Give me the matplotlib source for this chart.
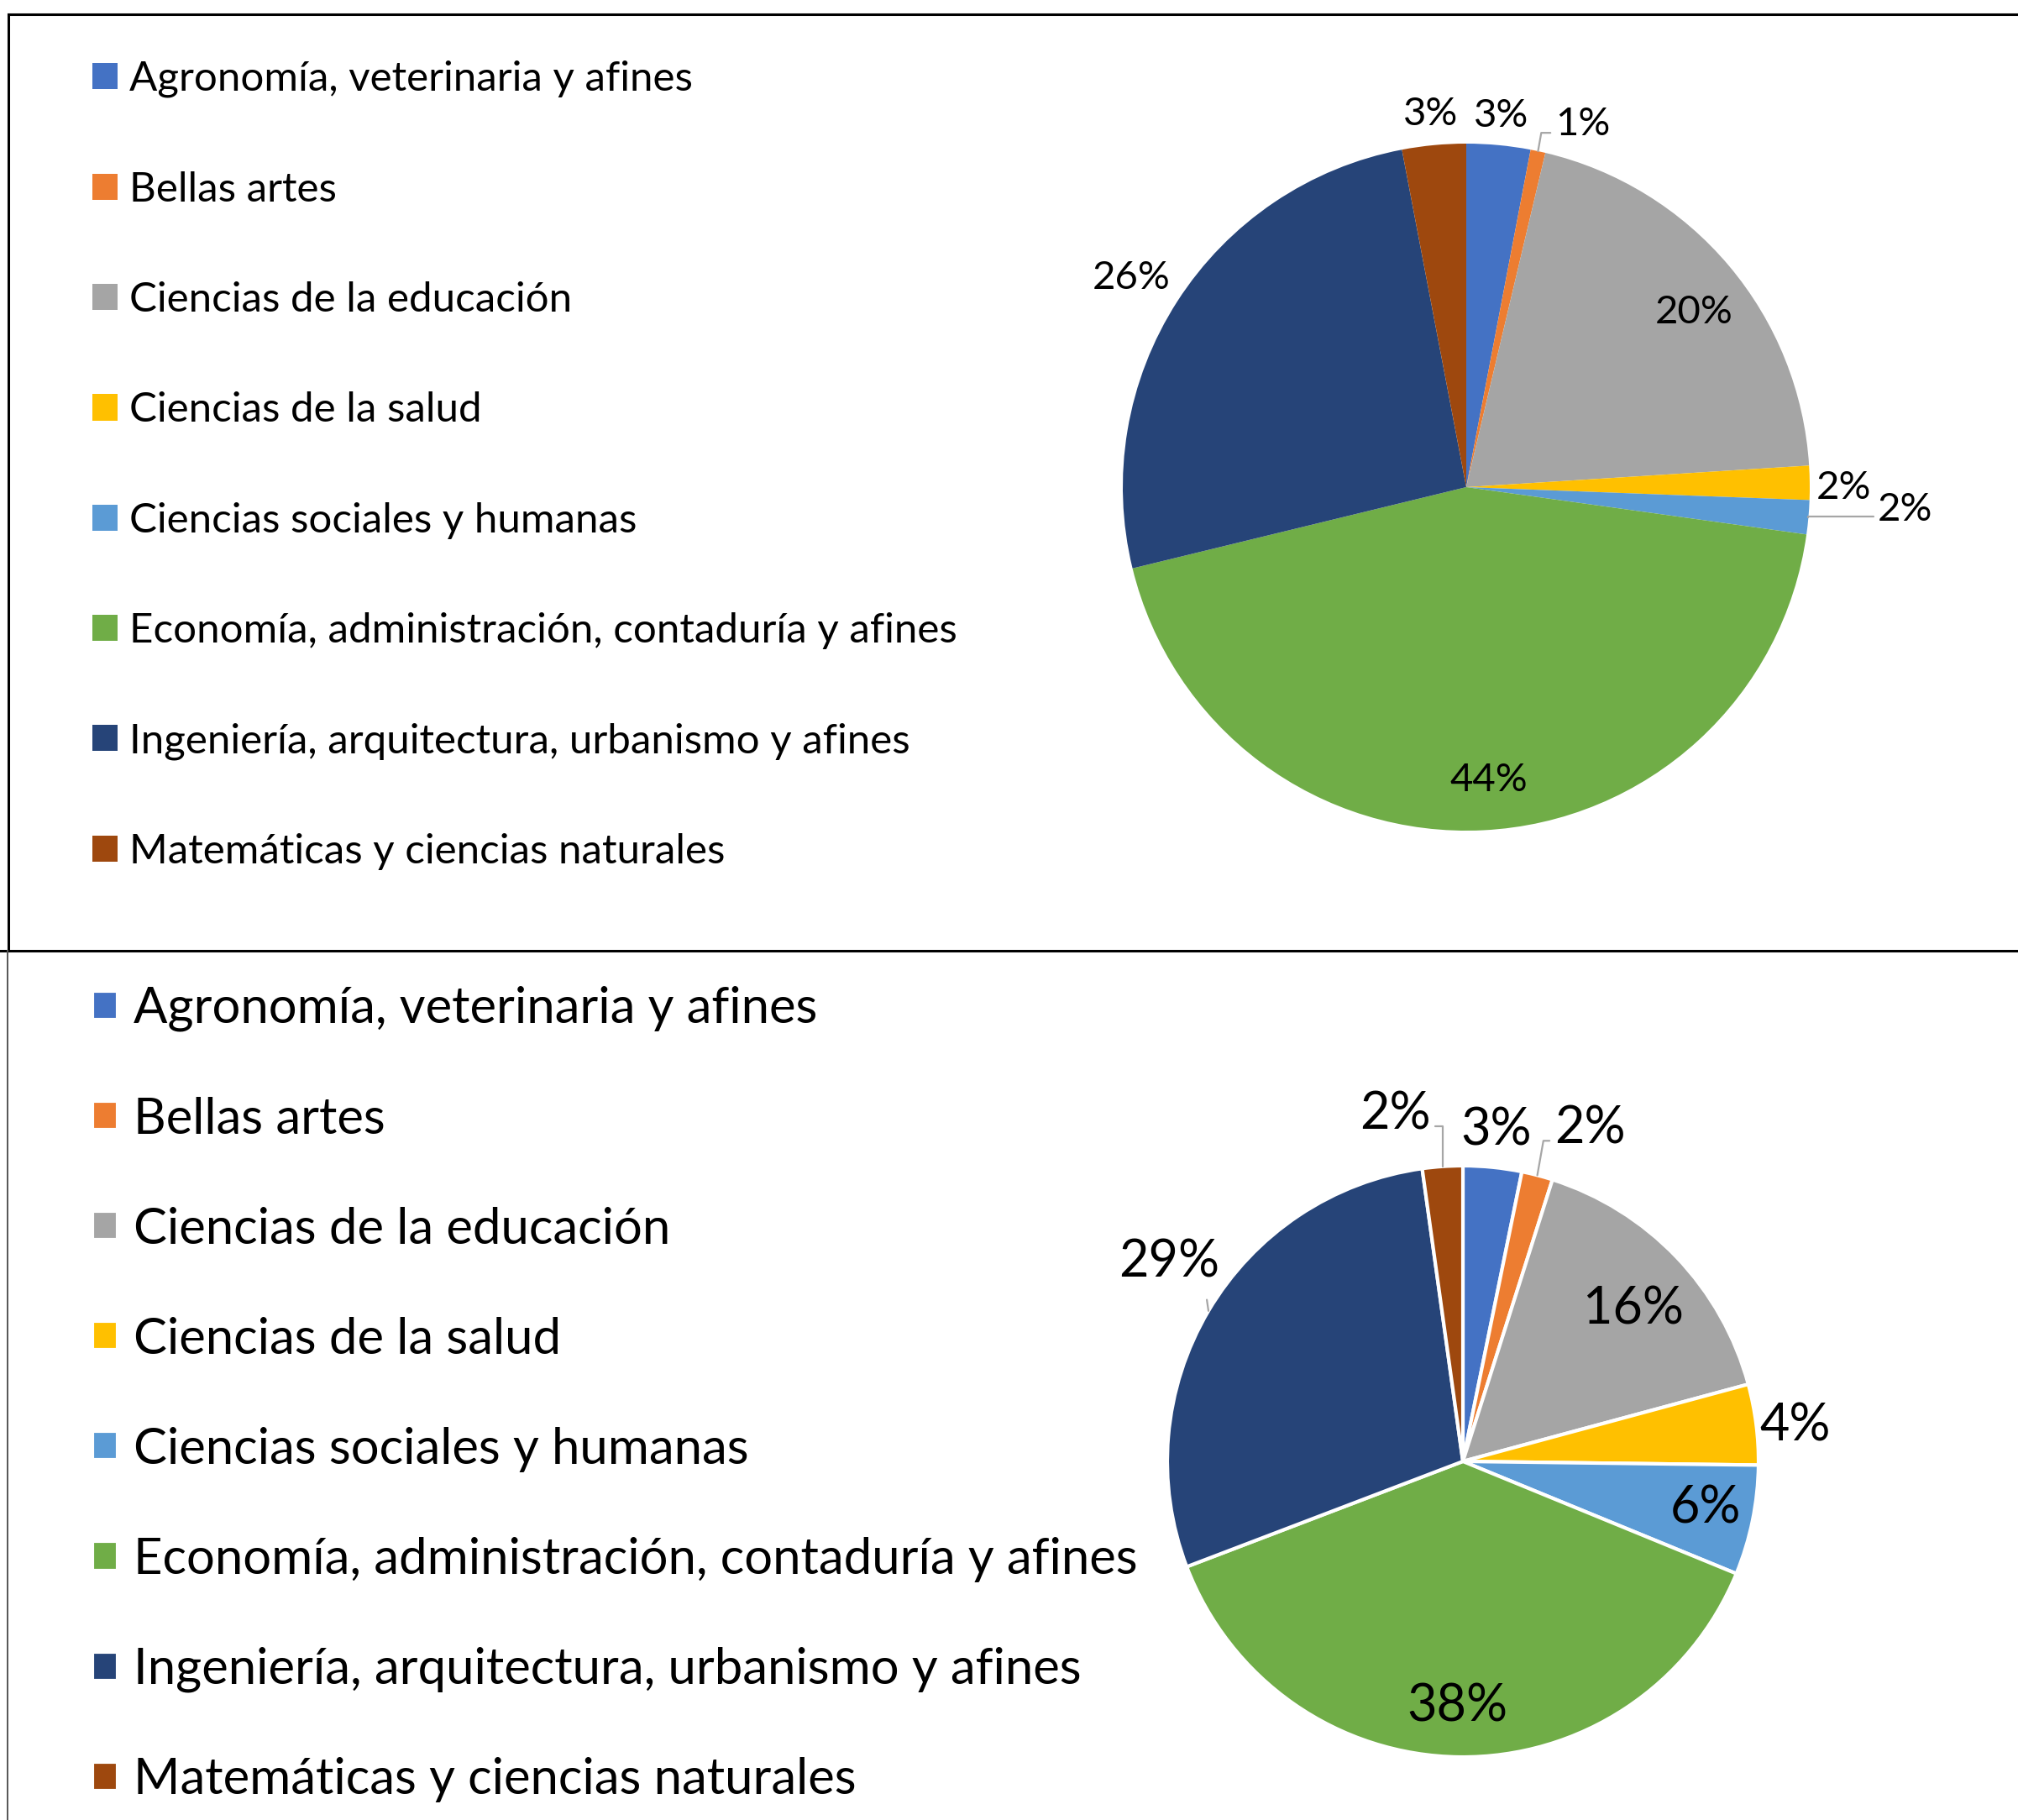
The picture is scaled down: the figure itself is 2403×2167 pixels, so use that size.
import numpy as np
import matplotlib
matplotlib.use("Agg")
import matplotlib.pyplot as plt
from matplotlib.lines import Line2D

plt.rcParams['font.family'] = ['Lato', 'DejaVu Sans']

categories = [
    "Agronomía, veterinaria y afines",
    "Bellas artes",
    "Ciencias de la educación",
    "Ciencias de la salud",
    "Ciencias sociales y humanas",
    "Economía, administración, contaduría y afines",
    "Ingeniería, arquitectura, urbanismo y afines",
    "Matemáticas y ciencias naturales",
]
share_top = [3.0, 0.7, 20.3, 1.6, 1.6, 44.0, 25.8, 3.0]
share_bottom = [3.2, 1.7, 15.9, 4.4, 6.0, 38.0, 28.6, 2.2]

colors = ["#4472C4", "#ED7D31", "#A5A5A5", "#FFC000",
          "#5B9BD5", "#70AD47", "#264478", "#9E480E"]

W, H = 2403, 2167
fig = plt.figure(figsize=(W / 100, H / 100), dpi=100)


def fx(x):
    return x / W


def fy(y):
    return 1 - y / H


# panel frames
lk = dict(transform=fig.transFigure, lw=2.2)
fig.add_artist(Line2D([fx(10), fx(10)], [fy(17), fy(1132)], color="black", **lk))
fig.add_artist(Line2D([fx(10), fx(W)], [fy(17), fy(17)], color="black", **lk))
fig.add_artist(Line2D([fx(0), fx(W)], [fy(1132), fy(1132)], color="black", **lk))
fig.add_artist(Line2D([fx(9), fx(9)], [fy(1132), fy(H)], color="#555555",
                      transform=fig.transFigure, lw=1.4))


def draw_pie(values, cx, cy, r, edge, fs, dist, nudge, leaders,
             leg_xy, leg_fs, leg_space, hsize, hpad):
    ax = fig.add_axes([fx(cx - r), fy(cy + r), 2 * r / W, 2 * r / H])
    wedges, _ = ax.pie(values, colors=colors, startangle=90, counterclock=False,
                       wedgeprops=edge)
    ax.set_xlim(-1, 1)
    ax.set_ylim(-1, 1)
    total = sum(values)
    for i, w in enumerate(wedges):
        mid = np.deg2rad((w.theta1 + w.theta2) / 2)
        ang = mid + np.deg2rad(nudge[i])
        pos = (dist[i] * np.cos(ang), dist[i] * np.sin(ang))
        txt = f"{values[i] / total * 100:.0f}%"
        if i in leaders:
            relpos, style, shr = leaders[i]
            ax.annotate(txt, xy=(np.cos(mid), np.sin(mid)), xytext=pos,
                        ha="center", va="center", fontsize=fs, color="black",
                        annotation_clip=False,
                        arrowprops=dict(arrowstyle="-", color="#A6A6A6", lw=1.6,
                                        relpos=relpos, connectionstyle=style,
                                        shrinkA=shr, shrinkB=0))
        else:
            ax.text(pos[0], pos[1], txt, ha="center", va="center",
                    fontsize=fs, color="black", clip_on=False)
    ax.legend(wedges, categories, loc="upper left",
              bbox_to_anchor=(fx(leg_xy[0]), fy(leg_xy[1])),
              bbox_transform=fig.transFigure, frameon=False, fontsize=leg_fs,
              borderpad=0, borderaxespad=0, labelspacing=leg_space,
              handlelength=hsize, handleheight=hsize, handletextpad=hpad)
    return ax


draw_pie(share_top, 1746, 580, 409, dict(linewidth=0), 34,
         [1.085, 1.11, 0.835, 1.098, 1.28, 0.856, 1.15, 1.09],
         [0, -5.7, -2.6, -0.8, 2.1, 1.5, 0.8, 0],
         {1: ((0, 0.25), "angle,angleA=0,angleB=80,rad=0", 2),
          4: ((0, 0.3), "angle,angleA=0,angleB=90,rad=0", 2)},
         (110, 72), 35.5, 1.77, 0.6, 0.3)

draw_pie(share_bottom, 1742, 1740, 352,
         dict(linewidth=3, edgecolor="white"), 44,
         [1.125, 1.204, 0.773, 1.13, 0.836, 0.83, 1.2, 1.196],
         [0, -6.3, -2, -1.2, 0.5, -0.5, -3.6, 7.1],
         {1: ((0, 0.25), "angle,angleA=0,angleB=80,rad=0", 2),
          6: ((0.85, 0), "arc3,rad=0", 10),
          7: ((1, 0.25), "angle,angleA=0,angleB=90,rad=0", 2)},
         (110, 1174), 43, 1.29, 0.5, 0.32)

fig.savefig("out.png", dpi=100, facecolor="white")
